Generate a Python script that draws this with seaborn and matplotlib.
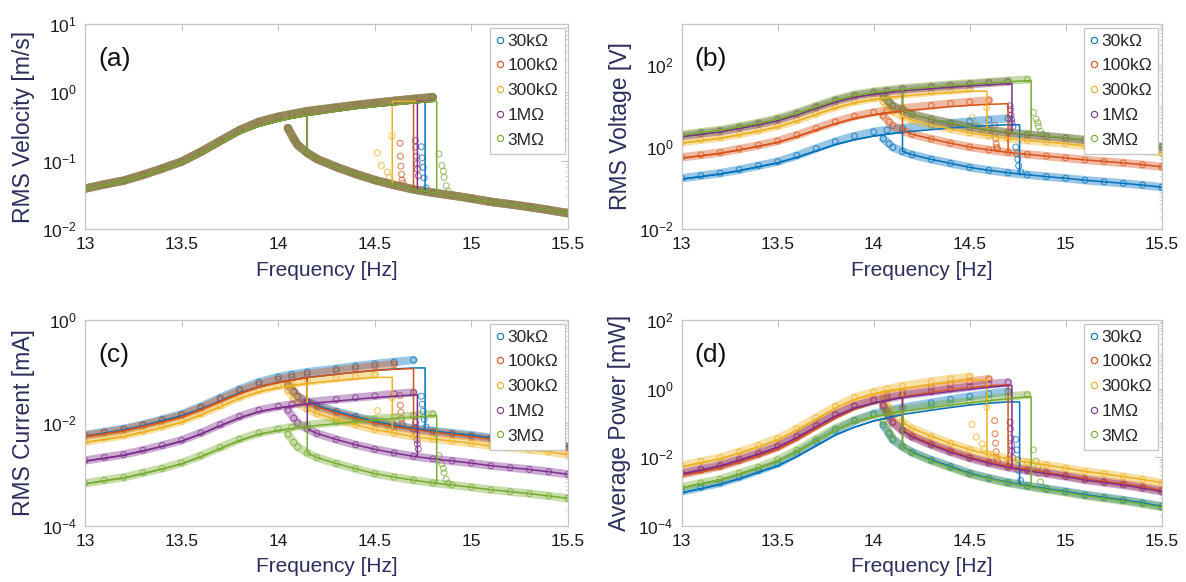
import numpy as np
import pandas as pd
import matplotlib
matplotlib.use("Agg")
import matplotlib.pyplot as plt
import matplotlib.ticker as mtick
from matplotlib.lines import Line2D
import seaborn as sns

# frequency grids of the two sweep branches [Hz]
GRID_UP = [13.0, 13.1, 13.2, 13.3, 13.4, 13.5, 13.6, 13.7, 13.8, 13.9,
           14.0, 14.07, 14.15, 14.3, 14.4, 14.5, 14.6, 14.7, 14.8]
GRID_DN = [14.05, 14.08, 14.1, 14.15, 14.2, 14.3, 14.4, 14.5, 14.6,
           14.7, 14.8, 14.9, 15.0, 15.1, 15.2, 15.3, 15.4, 15.5]

LOADS = ['30k\u03a9', '100k\u03a9', '300k\u03a9', '1M\u03a9', '3M\u03a9']
COLORS = ['#0072BD', '#D95319', '#EDB120', '#7E2F8E', '#77AC30']

# simulated jump-down frequency per load, jump-up frequency (all loads)
JUMP_SIM = [14.76, 14.70, 14.59, 14.72, 14.82]
JUMP_UP_SIM = 14.15

# measured points during the jump-down
JUMP_F = [[14.74, 14.745, 14.75, 14.755, 14.765],
          [14.63, 14.632, 14.635, 14.638, 14.64, 14.645],
          [14.513, 14.534, 14.565, 14.575, 14.589],
          [14.71, 14.712, 14.715, 14.718, 14.72, 14.725],
          [14.832, 14.846, 14.855, 14.858, 14.869, 14.88]]

# (a) velocity [m/s] - all loads overlap
VEL_UP = [0.039, 0.045, 0.051, 0.062, 0.077, 0.097, 0.135, 0.195, 0.28, 0.37,
          0.44, 0.48, 0.53, 0.60, 0.65, 0.70, 0.75, 0.80, 0.85]
VEL_SIM = [0.038, 0.044, 0.050, 0.060, 0.074, 0.092, 0.125, 0.18, 0.25, 0.32,
           0.38, 0.42, 0.46, 0.53, 0.58, 0.62, 0.66, 0.70, 0.74]
VEL_DN = [0.30, 0.21, 0.17, 0.13, 0.106, 0.081, 0.064, 0.052, 0.044,
          0.038, 0.034, 0.031, 0.028, 0.025, 0.023, 0.021, 0.019, 0.017]
VEL_JUMP = [[0.16, 0.11, 0.08, 0.056, 0.04],
            [0.18, 0.116, 0.083, 0.063, 0.052, 0.047],
            [0.13, 0.085, 0.068, 0.057, 0.23],
            [0.197, 0.158, 0.116, 0.091, 0.075, 0.06],
            [0.125, 0.085, 0.07, 0.057, 0.043, 0.036]]

# (b) voltage [V]
VOLT_UP = [[0.173, 0.2, 0.23, 0.28, 0.35, 0.44, 0.62, 0.92, 1.35, 1.85, 2.35, 2.6, 2.9, 3.4, 3.8, 4.2, 4.6, 5.0],
           [0.56, 0.64, 0.73, 0.89, 1.1, 1.4, 1.95, 2.85, 4.1, 5.6, 7.0, 7.8, 8.8, 10.3, 11.5, 12.6, 13.8],
           [1.3, 1.5, 1.7, 2.07, 2.56, 3.24, 4.5, 6.5, 9.5, 12.8, 15.5, 17.0, 19.0, 22.0, 24.0, 26.0],
           [1.85, 2.13, 2.42, 2.94, 3.64, 4.6, 6.4, 9.25, 13.3, 17.6, 20.9, 22.8, 25.2, 28.5, 31.0, 33.5, 36.5, 39.0],
           [2.0, 2.3, 2.6, 3.2, 3.9, 5.0, 6.9, 10.0, 14.4, 19.0, 22.6, 24.6, 27.2, 30.8, 33.4, 35.8, 38.4, 41.5, 44.5]]
VOLT_SIM = [[0.165, 0.19, 0.22, 0.265, 0.33, 0.41, 0.56, 0.8, 1.15, 1.5, 1.85, 2.05, 2.3, 2.65, 2.9, 3.15, 3.35, 3.5],
            [0.54, 0.61, 0.7, 0.85, 1.04, 1.3, 1.8, 2.6, 3.7, 5.0, 6.1, 6.8, 7.6, 8.8, 9.7, 10.4, 11.0, 11.4],
            [1.25, 1.43, 1.63, 1.98, 2.45, 3.1, 4.3, 6.2, 9.0, 12.0, 14.5, 16.0, 17.5, 20.0, 21.5, 23.0],
            [1.8, 2.05, 2.35, 2.85, 3.5, 4.4, 6.1, 8.8, 12.5, 16.5, 19.5, 21.3, 23.5, 26.5, 28.8, 31.0, 33.0, 35.0],
            [1.95, 2.25, 2.55, 3.1, 3.8, 4.8, 6.6, 9.5, 13.6, 18.0, 21.3, 23.2, 25.6, 29.0, 31.5, 34.0, 36.5, 39.0, 41.5]]
VOLT_DN = [[1.6, 1.2, 0.98, 0.78, 0.65, 0.50, 0.40, 0.32, 0.27, 0.235, 0.21, 0.19, 0.173, 0.155, 0.142, 0.13, 0.118, 0.105],
           [5.8, 4.1, 3.3, 2.5, 2.05, 1.57, 1.24, 1.0, 0.85, 0.74, 0.66, 0.6, 0.54, 0.485, 0.445, 0.41, 0.37, 0.33],
           [12.8, 9.0, 7.3, 5.6, 4.55, 3.5, 2.75, 2.23, 1.9, 1.63, 1.46, 1.33, 1.2, 1.07, 0.99, 0.9, 0.82, 0.73],
           [17.6, 12.4, 10.0, 7.65, 6.24, 4.76, 3.76, 3.06, 2.59, 2.24, 2.0, 1.82, 1.65, 1.47, 1.35, 1.24, 1.12, 1.0],
           [18.0, 12.6, 10.2, 7.8, 6.35, 4.85, 3.85, 3.1, 2.65, 2.3, 2.05, 1.85, 1.68, 1.5, 1.38, 1.26, 1.14, 1.02]]
VOLT_JUMP = [[1.0, 0.7, 0.5, 0.35, 0.25],
             [3.4, 2.2, 1.6, 1.2, 0.99, 0.89],
             [5.2, 3.4, 2.7, 2.3, 9.2],
             [10.2, 8.2, 6.0, 4.7, 3.9, 3.1],
             [7.0, 4.8, 3.9, 3.2, 2.4, 2.0]]

# (c) current [mA]
CURR_UP = [[0.0058, 0.0067, 0.0077, 0.0093, 0.0117, 0.0147, 0.0207, 0.0307, 0.045, 0.062, 0.078, 0.087, 0.097, 0.113, 0.127, 0.14, 0.153, 0.167],
           [0.0056, 0.0064, 0.0073, 0.0089, 0.011, 0.014, 0.0195, 0.0285, 0.041, 0.056, 0.07, 0.078, 0.088, 0.103, 0.115, 0.126, 0.138],
           [0.0043, 0.005, 0.0057, 0.0069, 0.0085, 0.0108, 0.015, 0.0217, 0.0317, 0.0427, 0.0517, 0.0567, 0.0633, 0.0733, 0.08, 0.0867],
           [0.00185, 0.00213, 0.00242, 0.00294, 0.00364, 0.0046, 0.0064, 0.00925, 0.0133, 0.0176, 0.0209, 0.0228, 0.0252, 0.0285, 0.031, 0.0335, 0.0365, 0.039],
           [6.7e-4, 7.7e-4, 8.7e-4, 1.07e-3, 1.3e-3, 1.67e-3, 2.3e-3, 3.33e-3, 4.8e-3, 6.33e-3, 7.53e-3, 8.2e-3, 9.07e-3, 0.0103, 0.0111, 0.0119, 0.0128, 0.0138, 0.0148]]
CURR_SIM = [[0.0055, 0.0063, 0.0073, 0.0088, 0.011, 0.0137, 0.0187, 0.0267, 0.0383, 0.05, 0.0617, 0.0683, 0.0767, 0.0883, 0.0967, 0.105, 0.112, 0.117],
            [0.0054, 0.0061, 0.007, 0.0085, 0.0104, 0.013, 0.018, 0.026, 0.037, 0.05, 0.061, 0.068, 0.076, 0.088, 0.097, 0.104, 0.11, 0.114],
            [0.00417, 0.00477, 0.00543, 0.0066, 0.00817, 0.0103, 0.0143, 0.0207, 0.03, 0.04, 0.0483, 0.0533, 0.0583, 0.0667, 0.0717, 0.0767],
            [0.0018, 0.00205, 0.00235, 0.00285, 0.0035, 0.0044, 0.0061, 0.0088, 0.0125, 0.0165, 0.0195, 0.0213, 0.0235, 0.0265, 0.0288, 0.031, 0.033, 0.035],
            [6.5e-4, 7.5e-4, 8.5e-4, 1.03e-3, 1.27e-3, 1.6e-3, 2.2e-3, 3.17e-3, 4.53e-3, 6.0e-3, 7.1e-3, 7.73e-3, 8.53e-3, 9.67e-3, 0.0105, 0.0113, 0.0122, 0.013, 0.0138]]
CURR_DN = [[0.0533, 0.04, 0.0327, 0.026, 0.0217, 0.0167, 0.0133, 0.0107, 0.009, 0.00783, 0.007, 0.00633, 0.00577, 0.00517, 0.00473, 0.00433, 0.00393, 0.0035],
           [0.058, 0.041, 0.033, 0.025, 0.0205, 0.0157, 0.0124, 0.01, 0.0085, 0.0074, 0.0066, 0.006, 0.0054, 0.00485, 0.00445, 0.0041, 0.0037, 0.0033],
           [0.0427, 0.03, 0.0243, 0.0187, 0.0152, 0.0117, 0.00917, 0.00743, 0.00633, 0.00543, 0.00487, 0.00443, 0.004, 0.00357, 0.0033, 0.003, 0.00273, 0.00243],
           [0.0176, 0.0124, 0.01, 0.00765, 0.00624, 0.00476, 0.00376, 0.00306, 0.00259, 0.00224, 0.002, 0.00182, 0.00165, 0.00147, 0.00135, 0.00124, 0.00112, 0.001],
           [0.006, 0.0042, 0.0034, 0.0026, 0.00212, 0.00162, 0.00128, 0.00103, 8.8e-4, 7.7e-4, 6.8e-4, 6.2e-4, 5.6e-4, 5.0e-4, 4.6e-4, 4.2e-4, 3.8e-4, 3.4e-4]]
CURR_JUMP = [[0.033, 0.023, 0.0167, 0.0117, 0.0083],
             [0.034, 0.022, 0.016, 0.012, 0.0099, 0.0089],
             [0.0173, 0.0113, 0.009, 0.0077, 0.0307],
             [0.0102, 0.0082, 0.006, 0.0047, 0.0039, 0.0031],
             [0.0023, 0.0016, 0.0013, 0.00107, 0.0008, 0.00067]]

# (d) average power [mW]
POW_UP = [[0.001, 0.00133, 0.00176, 0.00261, 0.00408, 0.00645, 0.0128, 0.0282, 0.0608, 0.114, 0.184, 0.225, 0.28, 0.385, 0.481, 0.588, 0.705, 0.833],
          [0.00314, 0.0041, 0.00533, 0.00792, 0.0121, 0.0196, 0.038, 0.0812, 0.168, 0.314, 0.49, 0.608, 0.774, 1.06, 1.32, 1.59, 1.9],
          [0.00563, 0.0075, 0.00963, 0.0143, 0.0218, 0.035, 0.0675, 0.141, 0.301, 0.546, 0.801, 0.963, 1.2, 1.61, 1.92, 2.25],
          [0.00342, 0.00454, 0.00586, 0.00864, 0.0132, 0.0212, 0.041, 0.0856, 0.177, 0.31, 0.437, 0.52, 0.635, 0.812, 0.961, 1.12, 1.33, 1.52],
          [0.00133, 0.00176, 0.00225, 0.00341, 0.00507, 0.00833, 0.0159, 0.0333, 0.0691, 0.12, 0.17, 0.202, 0.247, 0.316, 0.372, 0.427, 0.492, 0.574, 0.66]]
POW_SIM = [[9.1e-4, 0.0012, 0.00161, 0.00234, 0.00363, 0.0056, 0.0105, 0.0213, 0.0441, 0.075, 0.114, 0.14, 0.176, 0.234, 0.28, 0.331, 0.374, 0.408],
           [0.00292, 0.00372, 0.0049, 0.00723, 0.0108, 0.0169, 0.0324, 0.0676, 0.137, 0.25, 0.372, 0.462, 0.578, 0.774, 0.941, 1.08, 1.21, 1.3],
           [0.00521, 0.00682, 0.00886, 0.0131, 0.02, 0.032, 0.0616, 0.128, 0.27, 0.48, 0.701, 0.853, 1.02, 1.33, 1.54, 1.76],
           [0.00324, 0.0042, 0.00552, 0.00812, 0.0123, 0.0194, 0.0372, 0.0774, 0.156, 0.272, 0.38, 0.454, 0.552, 0.702, 0.829, 0.961, 1.09, 1.23],
           [0.00127, 0.00169, 0.00217, 0.0032, 0.00481, 0.00768, 0.0145, 0.0301, 0.0617, 0.108, 0.151, 0.179, 0.218, 0.28, 0.331, 0.385, 0.444, 0.507, 0.574]]
POW_DN = [[0.0853, 0.048, 0.032, 0.0203, 0.0141, 0.00833, 0.00533, 0.00341, 0.00243, 0.00184, 0.00147, 0.0012, 0.000998, 0.0008, 0.000672, 0.000563, 0.000464, 0.000368],
          [0.336, 0.168, 0.109, 0.0625, 0.042, 0.0246, 0.0154, 0.01, 0.00723, 0.00548, 0.00436, 0.0036, 0.00292, 0.00235, 0.00198, 0.00168, 0.00137, 0.00109],
          [0.546, 0.27, 0.178, 0.105, 0.069, 0.0408, 0.0252, 0.0166, 0.012, 0.00886, 0.0071, 0.0059, 0.0048, 0.00382, 0.00327, 0.0027, 0.00224, 0.00178],
          [0.31, 0.154, 0.1, 0.0585, 0.0389, 0.0227, 0.0141, 0.00936, 0.00671, 0.00502, 0.004, 0.00331, 0.00272, 0.00216, 0.00182, 0.00154, 0.00125, 0.001],
          [0.108, 0.0529, 0.0347, 0.0203, 0.0134, 0.00784, 0.00494, 0.0032, 0.00234, 0.00176, 0.0014, 0.00114, 0.00094, 0.00075, 0.000635, 0.000529, 0.000433, 0.000347]]
POW_JUMP = [[0.033, 0.0163, 0.0083, 0.0041, 0.0021],
            [0.116, 0.048, 0.0256, 0.0144, 0.0098, 0.0079],
            [0.09, 0.0385, 0.0243, 0.0176, 0.282],
            [0.104, 0.067, 0.036, 0.022, 0.0152, 0.0096],
            [0.0163, 0.0077, 0.0051, 0.0034, 0.0019, 0.00133]]

PANELS = [
    dict(tag='(a)', ylabel='RMS Velocity [m/s]', ylim=(1e-2, 1e1),
         yticks=[1e-2, 1e-1, 1e0, 1e1],
         up=[VEL_UP] * 5, sim=[VEL_SIM] * 5, dn=[VEL_DN] * 5, jump=VEL_JUMP),
    dict(tag='(b)', ylabel='RMS Voltage [V]', ylim=(1e-2, 1e3),
         yticks=[1e-2, 1e0, 1e2],
         up=VOLT_UP, sim=VOLT_SIM, dn=VOLT_DN, jump=VOLT_JUMP),
    dict(tag='(c)', ylabel='RMS Current [mA]', ylim=(1e-4, 1e0),
         yticks=[1e-4, 1e-2, 1e0],
         up=CURR_UP, sim=CURR_SIM, dn=CURR_DN, jump=CURR_JUMP),
    dict(tag='(d)', ylabel='Average Power [mW]', ylim=(1e-4, 1e2),
         yticks=[1e-4, 1e-2, 1e0, 1e2],
         up=POW_UP, sim=POW_SIM, dn=POW_DN, jump=POW_JUMP),
]


def panel_frames(p):
    pts, band, sim = [], [], []
    for k, load in enumerate(LOADS):
        up, sv, dn = p['up'][k], p['sim'][k], p['dn'][k]
        fu = GRID_UP[:len(up)]
        for f, v in zip(fu, up):
            pts.append((load, f, v))
        for f, v in zip(GRID_DN, dn):
            pts.append((load, f, v))
        for f, v in zip(JUMP_F[k], p['jump'][k]):
            pts.append((load, f, v))
        for f, v in zip(fu, up):
            band.append((load, f, v, f'{k}u'))
        for f, v in zip(GRID_DN, dn):
            band.append((load, f, v, f'{k}d'))
        # sweep-up simulation: upper branch, then the jump down
        fs = GRID_UP[:len(sv)]
        i_bot = int(np.argmin(np.abs(np.array(GRID_DN) - JUMP_SIM[k])))
        seg = list(zip(fs, sv)) + [(JUMP_SIM[k], sv[-1]), (JUMP_SIM[k], dn[i_bot])]
        sim += [(load, f, v, f'{k}u') for f, v in seg]
        # sweep-down simulation: lower branch, jump up, back along upper branch
        i_up = GRID_UP.index(JUMP_UP_SIM)
        i_dn = GRID_DN.index(JUMP_UP_SIM)
        seg = list(zip(GRID_DN[i_dn:], dn[i_dn:]))[::-1] + \
            list(zip(GRID_UP[:i_up + 1], sv[:i_up + 1]))[::-1]
        sim += [(load, f, v, f'{k}d') for f, v in seg]
    cols = ['load', 'f', 'v']
    return (pd.DataFrame(pts, columns=cols),
            pd.DataFrame(band, columns=cols + ['seg']),
            pd.DataFrame(sim, columns=cols + ['seg']))


sns.set_style('white')
plt.rcParams['font.family'] = ['Liberation Sans', 'DejaVu Sans']
plt.rcParams['mathtext.fontset'] = 'custom'
plt.rcParams['mathtext.rm'] = 'Liberation Sans'
plt.rcParams['mathtext.it'] = 'Liberation Sans:italic'

palette = dict(zip(LOADS, COLORS))
label_color = '#2b2d5c'
edge_color = '#c4c4c4'

fig = plt.figure(figsize=(11.86, 5.82), dpi=100)
positions = [[0.0717, 0.6065, 0.4073, 0.3522], [0.5748, 0.6065, 0.4047, 0.3522],
             [0.0717, 0.0967, 0.4073, 0.3534], [0.5748, 0.0967, 0.4047, 0.3534]]

for p, pos in zip(PANELS, positions):
    ax = fig.add_axes(pos)
    pts, band, sim = panel_frames(p)

    sns.lineplot(data=band, x='f', y='v', hue='load', units='seg', estimator=None,
                 sort=False, palette=palette, hue_order=LOADS, lw=6, alpha=0.4,
                 legend=False, ax=ax)
    sns.scatterplot(data=pts, x='f', y='v', hue='load', palette=palette,
                    hue_order=LOADS, s=18, linewidth=0.8, legend=False, ax=ax)
    coll = ax.collections[-1]
    coll.set_edgecolors(coll.get_facecolors())
    coll.set_facecolors('none')
    coll.set_alpha(0.7)
    sns.lineplot(data=sim, x='f', y='v', hue='load', units='seg', estimator=None,
                 sort=False, palette=palette, hue_order=LOADS, lw=1.1,
                 legend=False, ax=ax)

    ax.set_yscale('log')
    ax.set_xlim(13, 15.5)
    ax.set_ylim(*p['ylim'])
    ax.set_xticks([13, 13.5, 14, 14.5, 15, 15.5])
    ax.xaxis.set_major_formatter(mtick.FuncFormatter(lambda x, _: f'{x:g}'))
    ax.set_yticks(p['yticks'])
    ax.yaxis.set_minor_locator(mtick.LogLocator(base=10, subs=np.arange(1, 10), numticks=20))
    ax.yaxis.set_minor_formatter(mtick.NullFormatter())

    for s in ax.spines.values():
        s.set_color(edge_color)
        s.set_linewidth(0.9)
    ax.tick_params(which='both', direction='in', top=True, right=True,
                   color=edge_color, labelsize=12.5, labelcolor='#1a1a1a')
    ax.tick_params(which='major', length=5, width=0.8, pad=6)
    ax.tick_params(which='minor', length=2.5, width=0.5)

    ax.set_xlabel('Frequency [Hz]', fontsize=15, color=label_color, labelpad=6)
    ax.set_ylabel(p['ylabel'], fontsize=16.5, color=label_color, labelpad=5)
    ax.text(0.027, 0.83, p['tag'], transform=ax.transAxes, fontsize=19,
            va='center', ha='left', color='#111111')

    handles = [Line2D([], [], ls='none', marker='o', ms=4.5, mfc='none',
                      mec=c, mew=0.8) for c in COLORS]
    leg = ax.legend(handles, LOADS, loc='upper right', fontsize=12.5,
                    frameon=True, fancybox=False, framealpha=1,
                    edgecolor=edge_color, borderpad=0.35, labelspacing=0.55,
                    handlelength=0.4, handletextpad=0.25, borderaxespad=0.2)
    leg.get_frame().set_linewidth(0.9)

fig.savefig('out.png', dpi=100)
